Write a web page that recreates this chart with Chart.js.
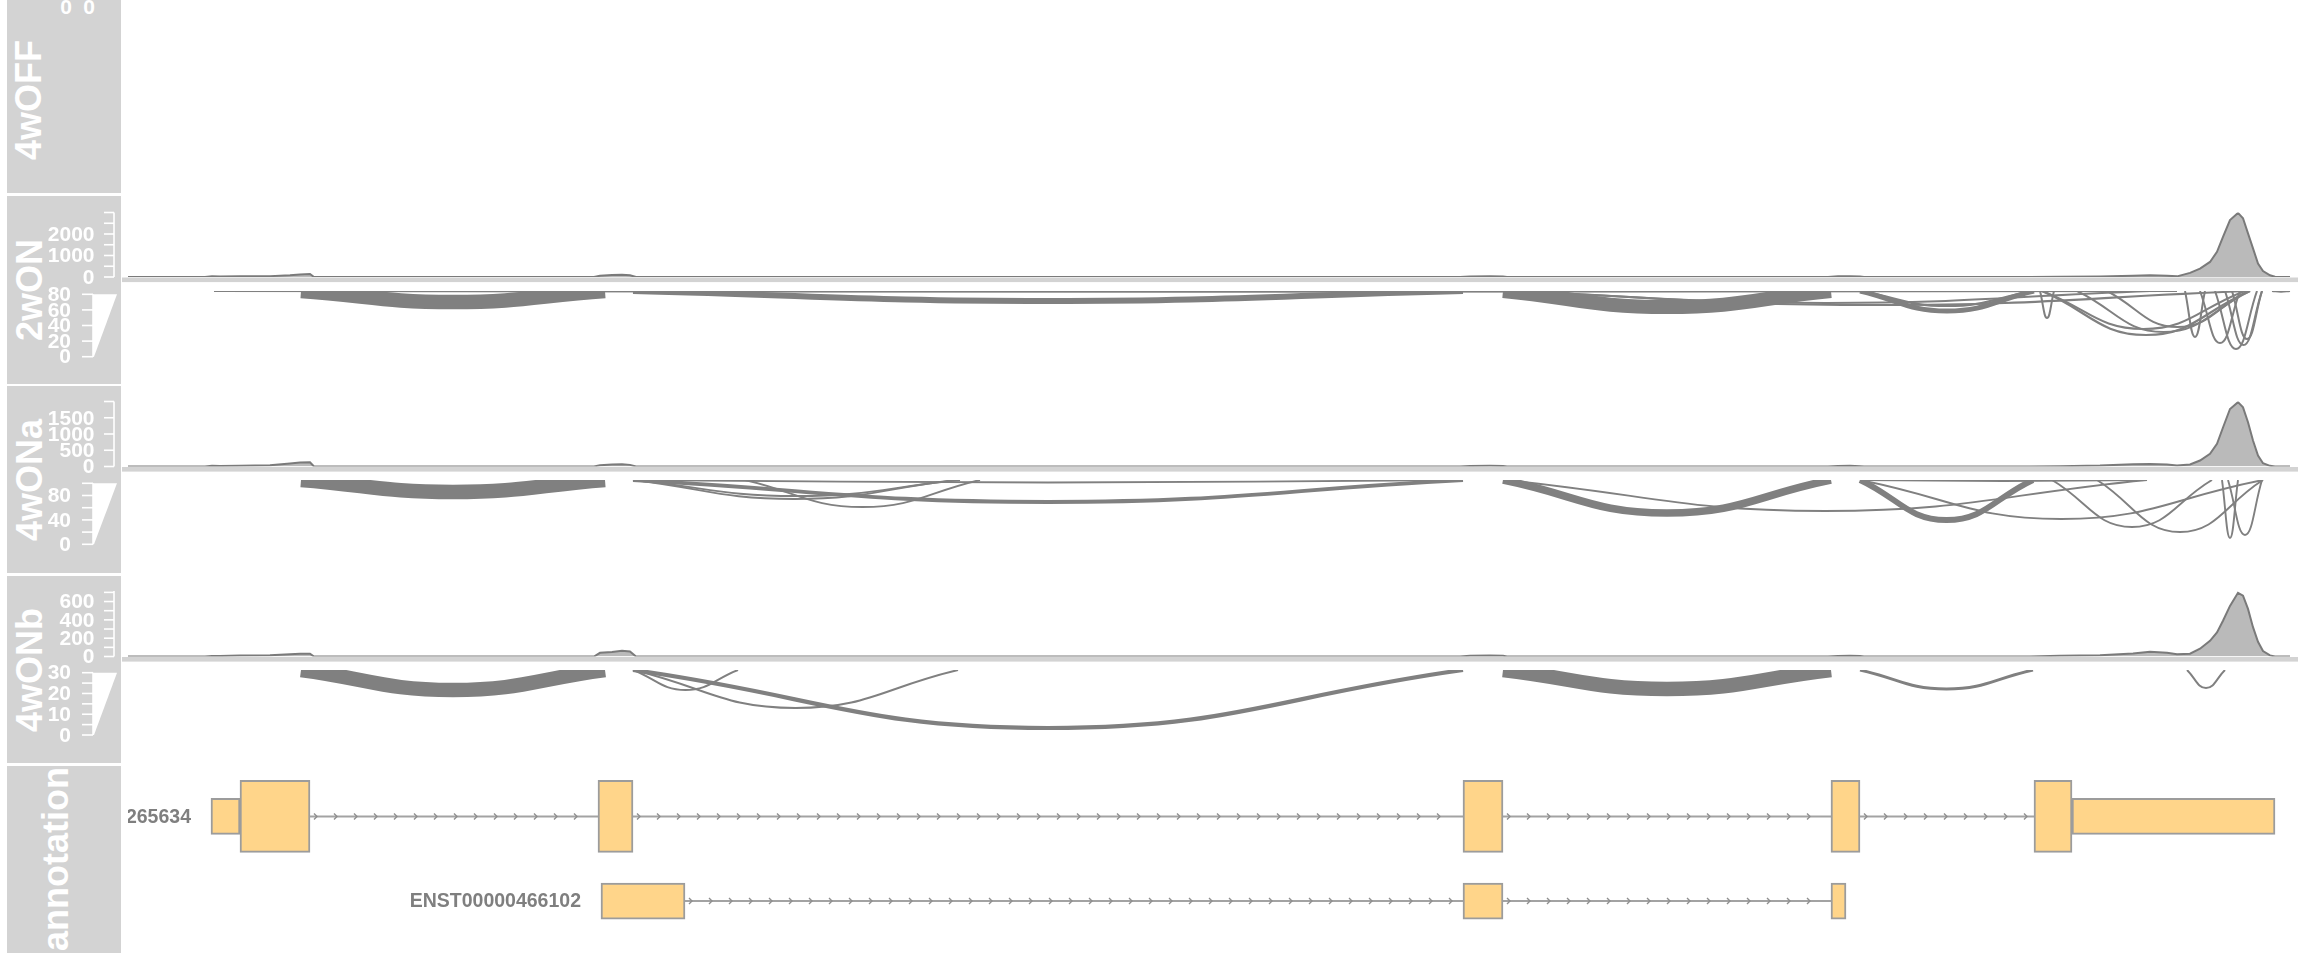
<!DOCTYPE html>
<html>
<head>
<meta charset="utf-8">
<title>Sashimi plot</title>
<script src="https://cdn.jsdelivr.net/npm/chart.js@4.4.1/dist/chart.umd.min.js"></script>
<style>
  html, body { margin:0; padding:0; background:#ffffff; }
  body { position:relative; width:2304px; height:960px; overflow:hidden; font-family:"Liberation Sans", Arial, sans-serif; }
  .panel { position:absolute; left:7px; width:113.7px; background:#d3d3d3; }
  .title { position:absolute; color:#ffffff; font-weight:bold; font-size:36px; line-height:1; white-space:nowrap; transform:translate(-50%,-50%) rotate(-90deg); }
  .tick0 { position:absolute; color:#ffffff; font-weight:bold; font-size:21px; line-height:1; transform:translateX(-100%); }
  canvas { position:absolute; left:0; }
</style>
</head>
<body>
<script>
// ================= DATA =================
const trackNames = ['4wOFF', '2wON', '4wONa', '4wONb', 'annotation'];
const windowStart = 122;
const windowEnd = 2298;

// coverage (reads) along the region
const coveragePos = [128, 205, 212, 220, 240, 270, 290, 300, 310, 314, 594, 600, 612, 622, 630, 636, 1460, 1470, 1490, 1503, 1507, 1828, 1838, 1850, 1860, 1864, 2030, 2060, 2100, 2133, 2150, 2167, 2177, 2190, 2200, 2210, 2217, 2223, 2230, 2238, 2243, 2248, 2253, 2258, 2263, 2270, 2275, 2290];
const coverage2wON  = [0, 0, 30, 20, 30, 40, 80, 120, 140, 0, 0, 60, 90, 100, 80, 0, 0, 20, 30, 20, 0, 0, 30, 30, 20, 0, 0, 10, 20, 60, 80, 60, 30, 190, 390, 700, 1170, 1870, 2650, 2980, 2730, 2030, 1330, 630, 280, 80, 10, 0];
const coverage4wONa = [0, 0, 20, 15, 20, 40, 90, 120, 130, 0, 0, 40, 60, 70, 50, 0, 0, 15, 20, 15, 0, 0, 15, 20, 10, 0, 0, 10, 30, 70, 80, 60, 30, 60, 185, 390, 700, 1200, 1770, 1980, 1820, 1360, 800, 340, 100, 20, 0, 0];
const coverage4wONb = [0, 0, 5, 5, 10, 15, 25, 30, 30, 0, 0, 40, 50, 62, 55, 0, 0, 8, 11, 8, 0, 0, 5, 8, 5, 0, 0, 8, 15, 33, 51, 40, 25, 30, 85, 171, 262, 390, 552, 695, 665, 520, 320, 160, 60, 12, 0, 0];

// coverage axis ranges / ticks / labels
const coverageMax2wON = 3000, coverageMax4wONa = 2000, coverageMax4wONb = 715;
const coverageTicks2wON  = [0, 500, 1000, 1500, 2000, 2500, 3000];
const coverageLabels2wON = [0, 1000, 2000];
const coverageTicks4wONa  = [0, 500, 1000, 1500, 2000];
const coverageLabels4wONa = [0, 500, 1000, 1500];
const coverageTicks4wONb  = [0, 100, 200, 300, 400, 500, 600, 700];
const coverageLabels4wONb = [0, 200, 400, 600];

// junction score legend ranges / ticks / labels
const junctionMax2wON = 80, junctionMax4wONa = 100, junctionMax4wONb = 30;
const junctionTicks2wON  = [0, 20, 40, 60, 80];
const junctionLabels2wON = [0, 20, 40, 60, 80];
const junctionTicks4wONa  = [0, 20, 40, 60, 80, 100];
const junctionLabels4wONa = [0, 40, 80];
const junctionTicks4wONb  = [0, 5, 10, 15, 20, 25, 30];
const junctionLabels4wONb = [0, 10, 20, 30];

// splice junctions: start, end, score (reads), arc depth
const junctionStart2wON = [214, 301, 633, 1503, 1860, 1860, 1503, 1503, 2040, 2042, 2042, 2077, 2107, 2185, 2200, 2215, 2225, 2232, 2272];
const junctionEnd2wON   = [2177, 605, 1463, 1831, 2034, 2034, 2250, 2150, 2054, 2250, 2245, 2250, 2248, 2205, 2240, 2257, 2262, 2262, 2290];
const junctionScore2wON = [2, 77, 26, 75, 20, 4, 4, 3, 3, 4, 3, 3, 3, 3, 3, 3, 3, 3, 2];
const junctionDepth2wON = [0.8, 11, 10, 16, 20, 15, 14, 12, 27, 44, 38, 41, 36, 46, 52, 58, 54, 48, 0.8];

const junctionStart4wONa = [301, 633, 633, 633, 633, 745, 1503, 1860, 1503, 1860, 1860, 2052, 2097, 2222, 2228];
const junctionEnd4wONa   = [605, 1463, 1463, 960, 955, 980, 1831, 2033, 2147, 2147, 2263, 2212, 2263, 2238, 2262];
const junctionScore4wONa = [96, 3, 18, 3, 3, 3, 46, 32, 3, 3, 3, 3, 3, 3, 3];
const junctionDepth4wONa = [12, 2.5, 22, 16, 19, 27, 33, 40, 31, 1, 39, 47, 52, 58, 55];

const junctionStart4wONb = [301, 633, 633, 633, 1503, 1860, 2187];
const junctionEnd4wONb   = [605, 738, 958, 1463, 1831, 2033, 2225];
const junctionScore4wONb = [29, 1, 1, 6, 29, 3, 1];
const junctionDepth4wONb = [20, 20, 38, 58, 19, 19, 18];

// gene annotation
const transcriptIds  = ['ENST00000265634', 'ENST00000466102'];
const exonTranscript = [0, 0, 0, 0, 0, 0, 0, 1, 1, 1];
const exonStart      = [211, 240, 598, 1463, 1831, 2034, 2072, 601, 1463, 1831];
const exonEnd        = [240, 310, 633, 1503, 1860, 2072, 2275, 685, 1503, 1846];
const exonCoding     = [false, true, true, true, true, true, false, false, false, false];

// ================= LAYOUT =================
const panels = [
  {top: -4,    bottom: 193.3, tx: 29,   ty: 100},
  {top: 196.3, bottom: 384,   tx: 30,   ty: 290},
  {top: 386,   bottom: 573.3, tx: 30,   ty: 479.5},
  {top: 576,   bottom: 763.3, tx: 30,   ty: 670},
  {top: 766,   bottom: 952.7, tx: 56,   ty: 859}
];
const geom = {
  '2wON':  {top: 196, height: 188, covTop: 212.5, base: 277,   sashTop: 291, wedgeTop: 294.3, wedgeBottom: 356.7},
  '4wONa': {top: 386, height: 188, covTop: 401.5, base: 466.5, sashTop: 480, wedgeTop: 483.3, wedgeBottom: 544.3},
  '4wONb': {top: 576, height: 188, covTop: 591,   base: 656.5, sashTop: 670, wedgeTop: 672.7, wedgeBottom: 735}
};
const SASHIMI_RANGE = 70;
const GREY = '#808080';
const AXIS_FONT = 'bold 21px "Liberation Sans", Arial, sans-serif';

panels.forEach((p, i) => {
  const d = document.createElement('div');
  d.className = 'panel';
  d.style.top = p.top + 'px';
  d.style.height = (p.bottom - p.top) + 'px';
  document.body.appendChild(d);
  const t = document.createElement('span');
  t.className = 'title';
  t.textContent = trackNames[i];
  t.style.left = p.tx + 'px';
  t.style.top = p.ty + 'px';
  document.body.appendChild(t);
});
// empty 4wOFF track axes: "0" labels at the top
[[72, -4], [95, -4]].forEach(([x, y]) => {
  const s = document.createElement('span');
  s.className = 'tick0'; s.textContent = '0';
  s.style.left = x + 'px'; s.style.top = y + 'px';
  document.body.appendChild(s);
});

function makeCanvas(top, height) {
  const c = document.createElement('canvas');
  c.width = 2304; c.height = height;
  c.style.top = top + 'px';
  c.style.width = '2304px'; c.style.height = height + 'px';
  document.body.appendChild(c);
  return c;
}

// ================= PLUGINS =================
const covAxisPlugin = {
  id: 'covAxis',
  beforeDatasetsDraw(chart, args, o) {
    const y = chart.scales.y, a = chart.chartArea, ctx = chart.ctx;
    const base = y.getPixelForValue(0);
    ctx.save();
    ctx.fillStyle = '#d3d3d3';
    ctx.fillRect(a.left, base + 0.5, a.right - a.left, 4.6);
    ctx.restore();
  },
  afterDraw(chart, args, o) {
    const y = chart.scales.y, ctx = chart.ctx;
    ctx.save();
    ctx.strokeStyle = '#ffffff'; ctx.fillStyle = '#ffffff'; ctx.lineWidth = 1.6;
    ctx.beginPath();
    ctx.moveTo(114, y.getPixelForValue(0)); ctx.lineTo(114, y.getPixelForValue(o.max));
    ctx.stroke();
    o.ticks.forEach(v => {
      const py = y.getPixelForValue(v);
      ctx.beginPath(); ctx.moveTo(104, py); ctx.lineTo(114, py); ctx.stroke();
    });
    ctx.font = AXIS_FONT;
    ctx.textAlign = 'right'; ctx.textBaseline = 'middle';
    o.labels.forEach(v => ctx.fillText(String(v), 94.5, y.getPixelForValue(v) + 1));
    ctx.restore();
  }
};

const wedgePlugin = {
  id: 'wedge',
  afterDraw(chart, args, o) {
    const ctx = chart.ctx;
    const pos = v => o.bottom - (o.bottom - o.top) * v / o.max;
    ctx.save();
    ctx.fillStyle = '#ffffff'; ctx.strokeStyle = '#ffffff'; ctx.lineWidth = 1.6;
    ctx.beginPath();
    ctx.moveTo(93, o.top); ctx.lineTo(117, o.top); ctx.lineTo(94, o.bottom); ctx.lineTo(93, o.bottom);
    ctx.closePath(); ctx.fill();
    ctx.beginPath(); ctx.moveTo(93, o.top); ctx.lineTo(93, o.bottom); ctx.stroke();
    o.ticks.forEach(v => {
      const py = pos(v);
      ctx.beginPath(); ctx.moveTo(82, py); ctx.lineTo(93, py); ctx.stroke();
    });
    ctx.font = AXIS_FONT;
    ctx.textAlign = 'right'; ctx.textBaseline = 'middle';
    o.labels.forEach(v => ctx.fillText(String(v), 71, pos(v) + 1));
    ctx.restore();
  }
};

const geneDecorPlugin = {
  id: 'geneDecor',
  afterDatasetsDraw(chart) {
    const x = chart.scales.x, y = chart.scales.y, ctx = chart.ctx;
    ctx.save();
    ctx.strokeStyle = '#8f8f8f'; ctx.lineWidth = 1.4;
    transcriptIds.forEach((id, ti) => {
      const idx = exonTranscript.map((t, i) => i).filter(i => exonTranscript[i] === ti)
        .sort((a, b) => exonStart[a] - exonStart[b]);
      const py = y.getPixelForValue(ti * 2 + 1);
      for (let k = 0; k < idx.length - 1; k++) {
        const from = exonEnd[idx[k]], to = exonStart[idx[k + 1]];
        for (let p = from + 6; p < to - 4; p += 20) {
          const px = x.getPixelForValue(p);
          ctx.beginPath();
          ctx.moveTo(px - 2, py - 3); ctx.lineTo(px + 1, py); ctx.lineTo(px - 2, py + 3);
          ctx.stroke();
        }
      }
    });
    ctx.restore();
  },
  afterDraw(chart) {
    const x = chart.scales.x, y = chart.scales.y, ctx = chart.ctx;
    ctx.save();
    ctx.beginPath(); ctx.rect(128, 0, 2304, chart.height); ctx.clip();
    ctx.font = 'bold 19.5px "Liberation Sans", Arial, sans-serif';
    ctx.fillStyle = '#7f7f7f'; ctx.textAlign = 'right'; ctx.textBaseline = 'middle';
    transcriptIds.forEach((id, ti) => {
      const first = Math.min(...exonStart.filter((s, i) => exonTranscript[i] === ti));
      ctx.fillText(id, x.getPixelForValue(first) - 20, y.getPixelForValue(ti * 2 + 1) + 1);
    });
    ctx.restore();
  }
};

const baseOptions = (padding) => ({
  responsive: false, animation: false, events: [],
  layout: {padding},
  plugins: {legend: {display: false}, tooltip: {enabled: false}, title: {display: false}}
});

// ================= CHARTS =================
function coverageChart(values, yMax, ticks, labels, g) {
  const c = makeCanvas(g.top, g.height);
  const opts = baseOptions({left: windowStart, right: 2304 - windowEnd, top: g.covTop - g.top, bottom: g.top + g.height - g.base});
  opts.scales = {
    x: {type: 'linear', display: false, min: windowStart, max: windowEnd},
    y: {type: 'linear', display: false, min: 0, max: yMax}
  };
  opts.plugins.covAxis = {ticks, labels, max: yMax};
  new Chart(c, {
    type: 'line',
    data: {datasets: [{
      data: coveragePos.map((p, i) => ({x: p, y: values[i]})),
      borderColor: '#7a7a7a', borderWidth: 2, backgroundColor: '#bababa',
      fill: 'origin', pointRadius: 0, tension: 0
    }]},
    options: opts,
    plugins: [covAxisPlugin]
  });
}

function sashimiChart(starts, ends, scores, depths, jMax, ticks, labels, g) {
  const c = makeCanvas(g.top, g.height);
  const opts = baseOptions({left: windowStart, right: 2304 - windowEnd, top: g.sashTop - g.top, bottom: g.top + g.height - g.sashTop - SASHIMI_RANGE});
  opts.scales = {
    x: {type: 'linear', display: false, min: windowStart, max: windowEnd},
    y: {type: 'linear', display: false, min: -SASHIMI_RANGE, max: 0}
  };
  opts.plugins.wedge = {ticks, labels, max: jMax, top: g.wedgeTop - g.top, bottom: g.wedgeBottom - g.top};
  const datasets = starts.map((s, i) => ({
    data: [{x: s, y: 0}, {x: (s + ends[i]) / 2, y: -depths[i]}, {x: ends[i], y: 0}],
    borderColor: GREY, borderWidth: 1.5 + 13.5 * scores[i] / jMax,
    tension: 0.45, pointRadius: 0, fill: false, clip: 0
  }));
  new Chart(c, {type: 'line', data: {datasets}, options: opts, plugins: [wedgePlugin]});
}

coverageChart(coverage2wON, coverageMax2wON, coverageTicks2wON, coverageLabels2wON, geom['2wON']);
sashimiChart(junctionStart2wON, junctionEnd2wON, junctionScore2wON, junctionDepth2wON, junctionMax2wON, junctionTicks2wON, junctionLabels2wON, geom['2wON']);
coverageChart(coverage4wONa, coverageMax4wONa, coverageTicks4wONa, coverageLabels4wONa, geom['4wONa']);
sashimiChart(junctionStart4wONa, junctionEnd4wONa, junctionScore4wONa, junctionDepth4wONa, junctionMax4wONa, junctionTicks4wONa, junctionLabels4wONa, geom['4wONa']);
coverageChart(coverage4wONb, coverageMax4wONb, coverageTicks4wONb, coverageLabels4wONb, geom['4wONb']);
sashimiChart(junctionStart4wONb, junctionEnd4wONb, junctionScore4wONb, junctionDepth4wONb, junctionMax4wONb, junctionTicks4wONb, junctionLabels4wONb, geom['4wONb']);

// annotation track
(function () {
  const top = 760, height = 200;
  const c = makeCanvas(top, height);
  const opts = baseOptions({left: windowStart, right: 2304 - windowEnd, top: 3.5, bottom: 6});
  opts.indexAxis = 'y';
  opts.scales = {
    x: {type: 'linear', display: false, min: windowStart, max: windowEnd},
    y: {type: 'linear', display: false, min: 0, max: 4, reverse: true}
  };
  const barStyle = {backgroundColor: '#FFD58A', borderColor: '#9c9c9c', borderWidth: 2, borderSkipped: false, grouped: false, order: 1};
  const coding = [], utr = [];
  exonStart.forEach((s, i) => {
    const row = exonTranscript[i] === 0 && exonCoding[i] ? coding : utr;
    row.push({x: [s, exonEnd[i]], y: exonTranscript[i] * 2 + 1});
  });
  const introns = transcriptIds.map((id, ti) => {
    const ends = exonEnd.filter((e, i) => exonTranscript[i] === ti);
    const starts = exonStart.filter((s, i) => exonTranscript[i] === ti);
    return {
      type: 'line', indexAxis: 'x', order: 2,
      data: [{x: Math.min(...ends), y: ti * 2 + 1}, {x: Math.max(...starts), y: ti * 2 + 1}],
      borderColor: '#a3a3a3', borderWidth: 2, pointRadius: 0, fill: false
    };
  });
  new Chart(c, {
    type: 'bar',
    data: {datasets: [
      Object.assign({data: coding, barThickness: 72}, barStyle),
      Object.assign({data: utr, barThickness: 36}, barStyle),
      ...introns
    ]},
    options: opts,
    plugins: [geneDecorPlugin]
  });
})();
</script>
</body>
</html>
